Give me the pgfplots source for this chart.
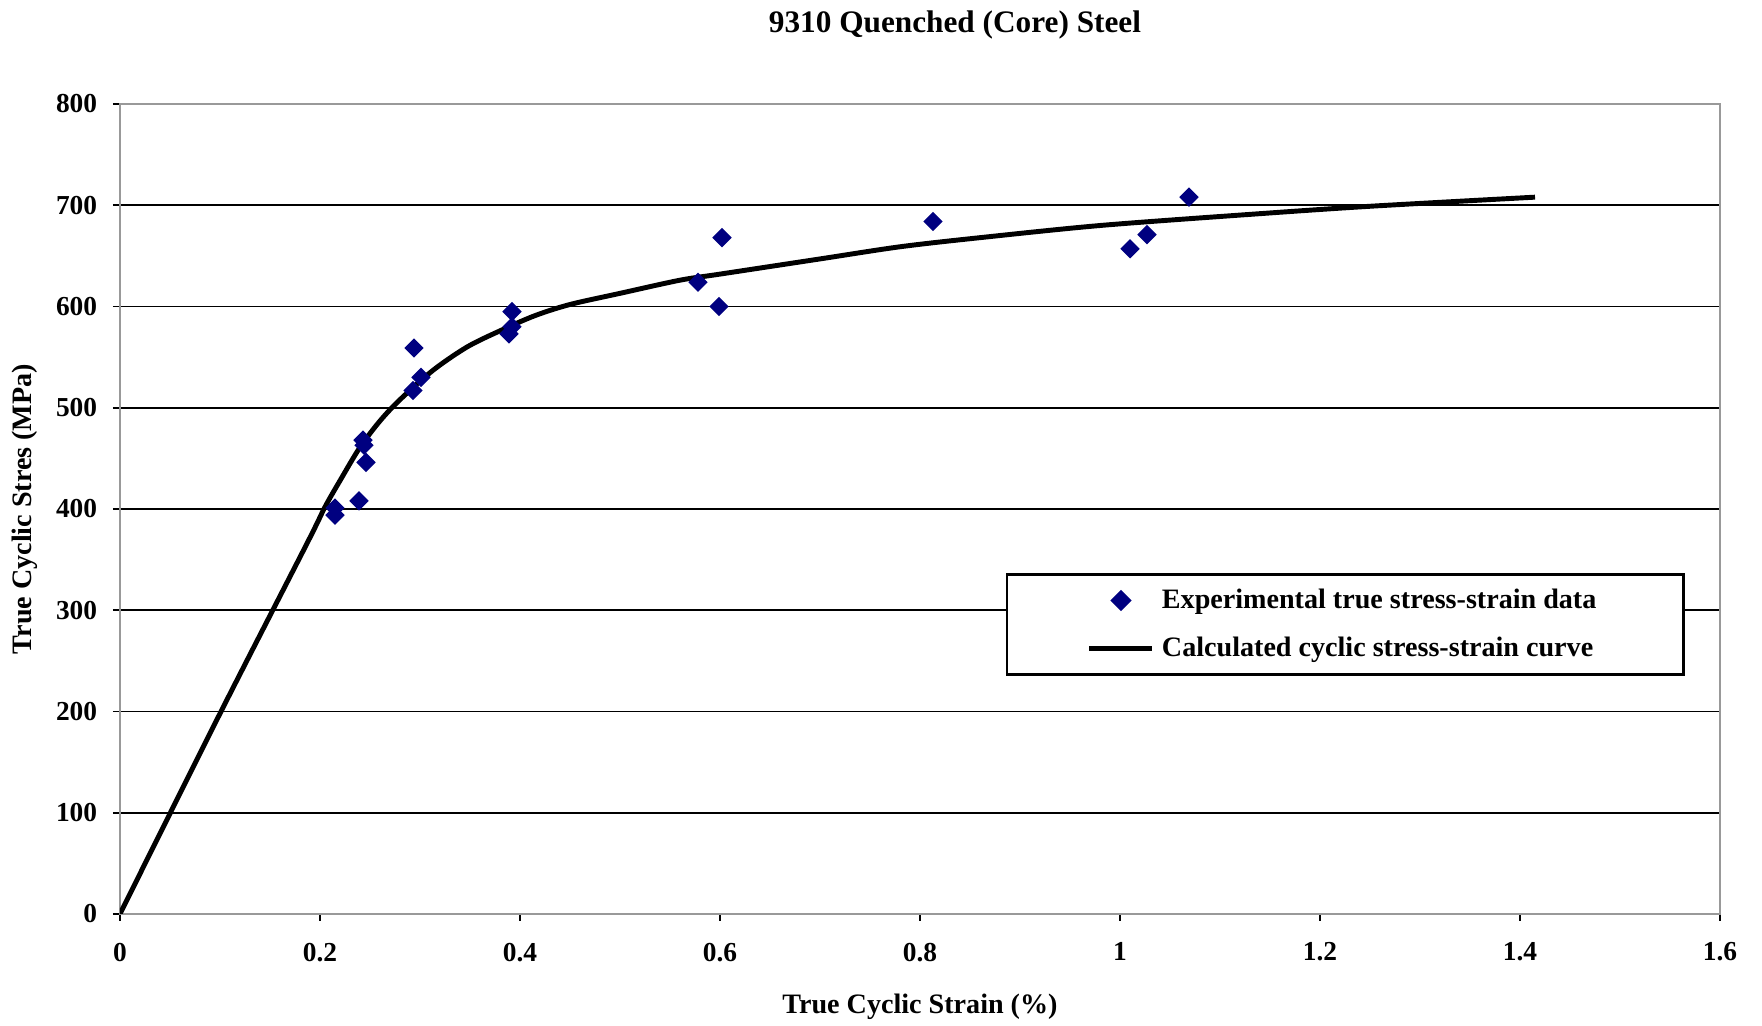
\documentclass[border=0pt]{standalone}
\usepackage{pgfplots}
\pgfplotsset{compat=1.18}
\usepackage{fontspec}
\setmainfont{Liberation Serif}
\definecolor{navyd}{RGB}{0,0,128}
\begin{document}
\fontsize{7.8}{9}\selectfont\bfseries
\begin{tikzpicture}
\path[use as bounding box] (-12mm,-11.2mm) rectangle (164.2mm,91.4mm);
\begin{axis}[
  at={(0,0)}, anchor=south west,
  scale only axis, width=160mm, height=81mm,
  xmin=0, xmax=1.6, ymin=0, ymax=800,
  xtick={0,0.2,...,1.6}, ytick={0,100,...,800},
  xticklabels={0,0.2,0.4,0.6,0.8,1,1.2,1.4,1.6},
  /pgf/number format/assume math mode=true,
  tick label style={font=\fontsize{7.8}{9}\selectfont\bfseries},
  tick align=outside, tick pos=left,
  major tick length=0.7mm,
  every tick/.style={black, line width=0.5pt},
  axis line style={gray!80, line width=0.6pt},
  ymajorgrids, grid style={black, line width=0.5pt},
  yticklabel style={xshift=-0.6mm},
  xticklabel style={yshift=-1.2mm},
  legend style={at={(rel axis cs:0.5535,0.4208)}, anchor=north west,
    draw=black, line width=0.8pt, inner xsep=8.0mm, inner ysep=0.71mm,
    row sep=1.04mm, font=\fontsize{8}{9}\selectfont\bfseries,
    cells={anchor=west}},
  legend cell align=left,
]
\addplot[only marks, mark=square*, mark size=1.75pt, mark options={rotate=45}, color=navyd,
  legend image code/.code={\draw[mark=square*, mark size=1.75pt, mark options={rotate=45}, color=navyd] plot coordinates {(3.15mm,0mm)};}]
  coordinates {
  (0.215,401) (0.215,394) (0.239,408) (0.246,446) (0.243,468) (0.244,463)
  (0.293,517) (0.301,530) (0.294,559) (0.392,595) (0.392,580) (0.389,573)
  (0.578,624) (0.599,600) (0.602,668) (0.813,684) (1.010,657) (1.027,671)
  (1.069,708)
  };
\addlegendentry{Experimental true stress-strain data}
\addplot[black, line width=1.4pt, smooth, tension=0.5,
  legend image code/.code={\draw[black, line width=1.4pt] (0mm,0mm) -- (6.3mm,0mm);}]
  coordinates {
  (0,0) (0.1,198) (0.187,366) (0.205,402) (0.22,428) (0.24,461) (0.26,487)
  (0.28,508) (0.313,537) (0.347,560) (0.38,576) (0.415,591) (0.45,602) (0.5,613)
  (0.56,626) (0.6,632) (0.7,647) (0.78,659) (0.86,668) (0.98,680)
  (1.13,691) (1.25,699) (1.415,708)
  };
\addlegendentry{Calculated cyclic stress-strain curve}
\end{axis}
\node at (83.5mm,88.85mm) {\fontsize{8.9}{10}\selectfont 9310 Quenched (Core) Steel};
\node at (80mm,-9.3mm) {\fontsize{8}{9}\selectfont True Cyclic Strain (\%)};
\node[rotate=90] at (-9.5mm,40.5mm) {\fontsize{8}{9}\selectfont True Cyclic Stres (MPa)};
\end{tikzpicture}
\end{document}
